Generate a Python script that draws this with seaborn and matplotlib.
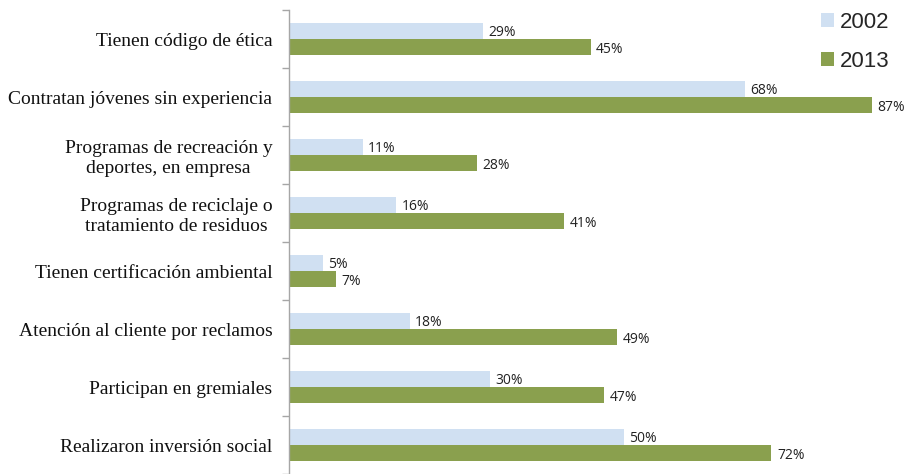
import matplotlib
matplotlib.use("Agg")
import matplotlib.pyplot as plt
import pandas as pd
import seaborn as sb
from matplotlib.patches import Patch
from matplotlib.ticker import FixedLocator

# Datos
categorias = [
    "Tienen código de ética",
    "Contratan jóvenes sin experiencia",
    "Programas de recreación y\ndeportes, en empresa",
    "Programas de reciclaje o\ntratamiento de residuos",
    "Tienen certificación ambiental",
    "Atención al cliente por reclamos",
    "Participan en gremiales",
    "Realizaron inversión social",
]
v2002 = [0.29, 0.68, 0.11, 0.16, 0.05, 0.18, 0.30, 0.50]
v2013 = [0.45, 0.87, 0.28, 0.41, 0.07, 0.49, 0.47, 0.72]
anios = ["2002", "2013"]
colores = ["#D0E0F2", "#8AA04E"]

df = pd.DataFrame({
    "categoria": categorias * 2,
    "valor": v2002 + v2013,
    "anio": [anios[0]] * len(categorias) + [anios[1]] * len(categorias),
})

sb.set_style("white")

fig = plt.figure(figsize=(9.09, 4.74), dpi=100)
ax = fig.add_axes([289 / 909, 0, 603 / 909, 464 / 474])

sb.barplot(data=df, x="valor", y="categoria", hue="anio", palette=colores,
           width=0.56, ax=ax, legend=False, saturation=1, edgecolor="none")

# Etiquetas de porcentaje
for cont in ax.containers:
    for b in cont:
        ax.annotate(f"{b.get_width():.0%}",
                    xy=(b.get_width(), b.get_y() + b.get_height() / 2),
                    xytext=(4, -1.5), textcoords="offset points",
                    ha="left", va="center", fontsize=10,
                    family="Open Sans", color="#222222")

ax.set_xlim(0, 0.9)
ax.set_ylim(len(categorias) - 0.5, -0.5)
ax.set_xlabel("")
ax.set_ylabel("")
ax.set_xticks([])

# Eje vertical
for s in ["top", "right", "bottom"]:
    ax.spines[s].set_visible(False)
ax.spines["left"].set_color("#A6A6A6")
ax.spines["left"].set_linewidth(1)
ax.tick_params(axis="y", which="major", left=False, length=0, pad=12)
ax.yaxis.set_minor_locator(FixedLocator([i - 0.5 for i in range(len(categorias) + 1)]))
ax.tick_params(axis="y", which="minor", left=True, length=5, color="#A6A6A6", width=1)
for lbl in ax.get_yticklabels():
    lbl.set_family("Liberation Serif")
    lbl.set_fontsize(14)
    lbl.set_multialignment("center")
    lbl.set_color("#111111")

# Leyenda
handles = [Patch(facecolor=c, edgecolor="none") for c in colores]
fig.legend(handles, anios, loc="upper left", bbox_to_anchor=(803 / 909, 1 + 6 / 474),
           frameon=False, handlelength=0.6, handleheight=0.6, handletextpad=0.25,
           labelspacing=0.8, borderpad=0.3,
           prop={"family": "Liberation Sans", "size": 16})

fig.savefig("out.png", dpi=100)
